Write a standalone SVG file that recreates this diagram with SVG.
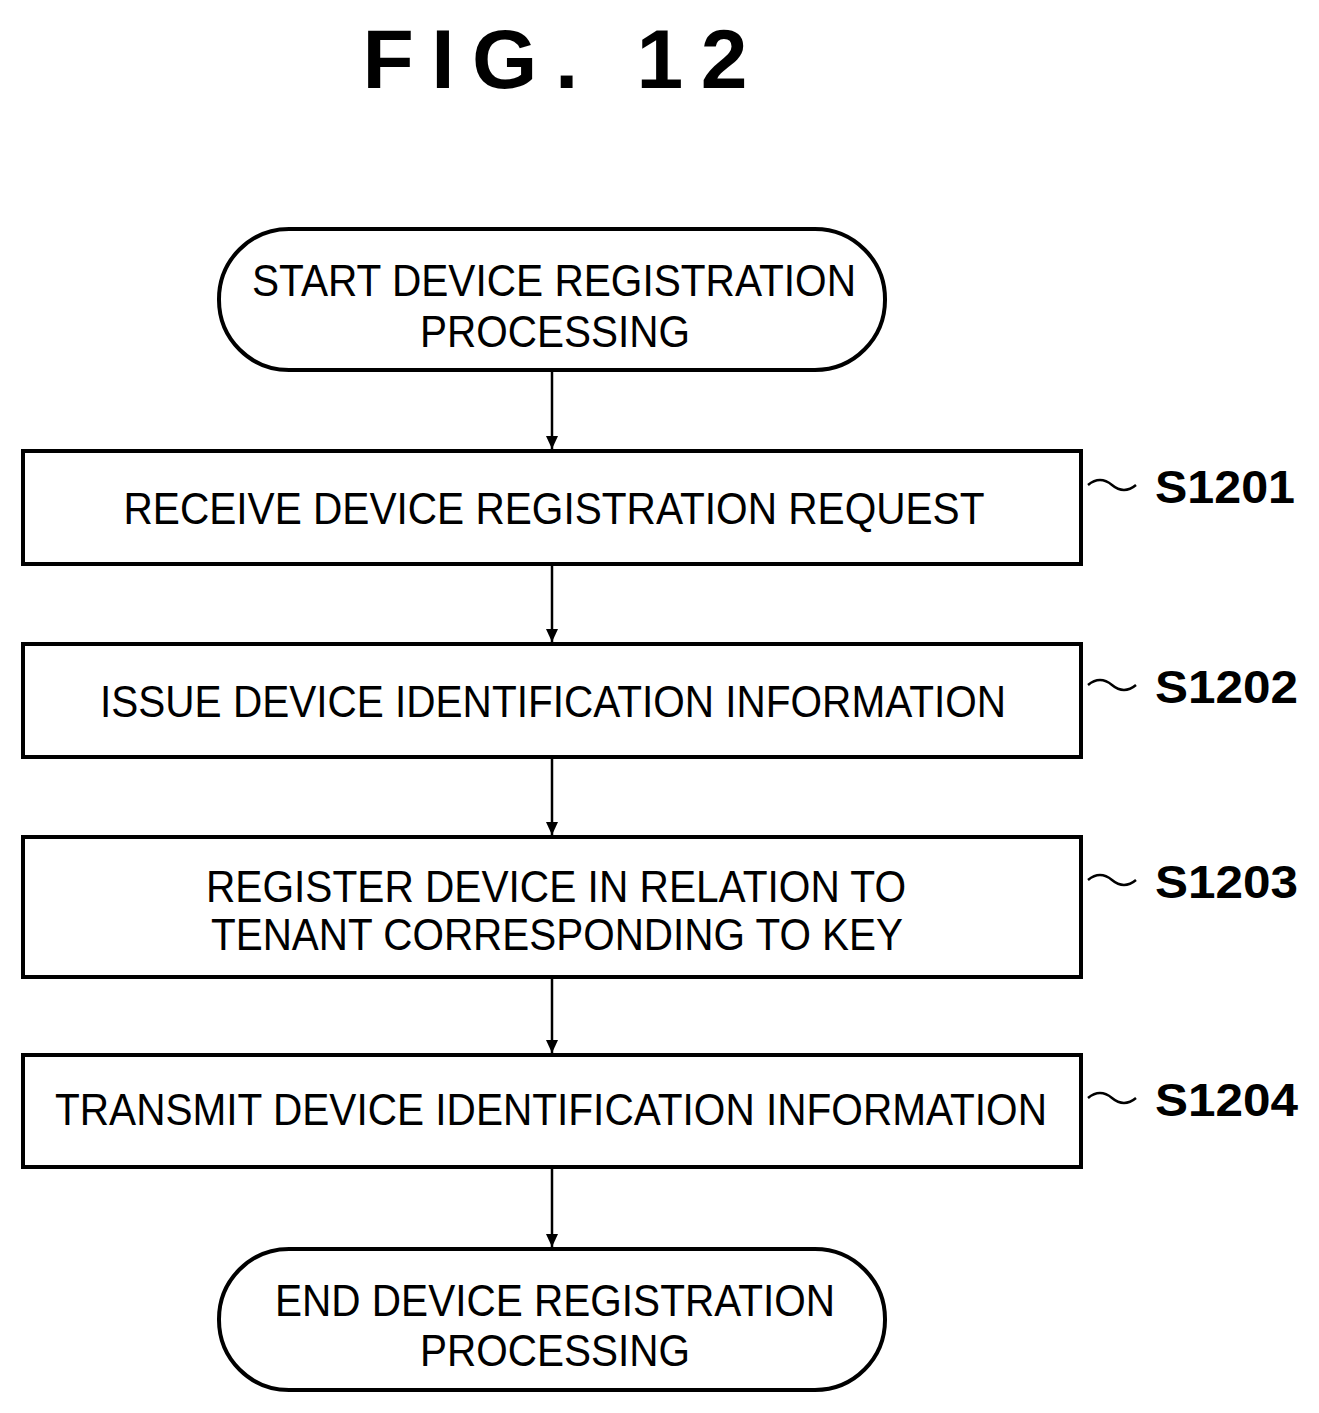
<svg xmlns="http://www.w3.org/2000/svg" width="1319" height="1413" viewBox="0 0 1319 1413">
<style>
.b{fill:#fff;stroke:#000;stroke-width:4}
.t{font-family:"Liberation Sans",Arial,sans-serif;font-size:44px;text-anchor:middle;fill:#000}
.l{font-family:"Liberation Sans",Arial,sans-serif;font-size:46px;font-weight:bold;fill:#000}
.c{fill:none;stroke:#000;stroke-width:2.5}
</style>
<defs><marker id="a" markerWidth="14" markerHeight="14" refX="13" refY="6" orient="auto" markerUnits="userSpaceOnUse"><path d="M0,0 L13,6 L0,12 Z" fill="#000"/></marker></defs>
<rect width="1319" height="1413" fill="#fff"/>
<text x="555" y="88" font-family="Liberation Sans,Arial,sans-serif" font-size="84" font-weight="bold" text-anchor="middle" textLength="385" lengthAdjust="spacing">FIG. 12</text>
<g id="connectors">
<line class="c" x1="552" y1="370" x2="552" y2="449" marker-end="url(#a)"/>
<line class="c" x1="552" y1="564" x2="552" y2="642" marker-end="url(#a)"/>
<line class="c" x1="552" y1="757" x2="552" y2="835" marker-end="url(#a)"/>
<line class="c" x1="552" y1="977" x2="552" y2="1053" marker-end="url(#a)"/>
<line class="c" x1="552" y1="1167" x2="552" y2="1247" marker-end="url(#a)"/>
</g>
<g id="start"><rect class="b" x="219" y="229" width="666" height="141" rx="70"/>
<text class="t" x="554" y="296" textLength="604" lengthAdjust="spacingAndGlyphs">START DEVICE REGISTRATION</text><text class="t" x="555" y="347" textLength="270" lengthAdjust="spacingAndGlyphs">PROCESSING</text></g>
<g id="s1201"><rect class="b" x="23" y="451" width="1058" height="113"/><text class="t" x="554" y="524" textLength="861" lengthAdjust="spacingAndGlyphs">RECEIVE DEVICE REGISTRATION REQUEST</text>
<path class="c" d="M1088,485 q12,-10 24,0 t24,0"/><text class="l" x="1155" y="503" textLength="140" lengthAdjust="spacingAndGlyphs">S1201</text></g>
<g id="s1202"><rect class="b" x="23" y="644" width="1058" height="113"/><text class="t" x="553" y="717" textLength="906" lengthAdjust="spacingAndGlyphs">ISSUE DEVICE IDENTIFICATION INFORMATION</text>
<path class="c" d="M1088,685 q12,-10 24,0 t24,0"/><text class="l" x="1155" y="703" textLength="143" lengthAdjust="spacingAndGlyphs">S1202</text></g>
<g id="s1203"><rect class="b" x="23" y="837" width="1058" height="140"/><text class="t" x="556" y="902" textLength="700" lengthAdjust="spacingAndGlyphs">REGISTER DEVICE IN RELATION TO</text><text class="t" x="557" y="950" textLength="692" lengthAdjust="spacingAndGlyphs">TENANT CORRESPONDING TO KEY</text>
<path class="c" d="M1088,880 q12,-10 24,0 t24,0"/><text class="l" x="1155" y="898" textLength="143" lengthAdjust="spacingAndGlyphs">S1203</text></g>
<g id="s1204"><rect class="b" x="23" y="1055" width="1058" height="112"/><text class="t" x="551" y="1125" textLength="992" lengthAdjust="spacingAndGlyphs">TRANSMIT DEVICE IDENTIFICATION INFORMATION</text>
<path class="c" d="M1088,1098 q12,-10 24,0 t24,0"/><text class="l" x="1155" y="1116" textLength="143" lengthAdjust="spacingAndGlyphs">S1204</text></g>
<g id="end"><rect class="b" x="219" y="1249" width="666" height="141" rx="70"/>
<text class="t" x="555" y="1316" textLength="560" lengthAdjust="spacingAndGlyphs">END DEVICE REGISTRATION</text><text class="t" x="555" y="1366" textLength="270" lengthAdjust="spacingAndGlyphs">PROCESSING</text></g>
</svg>
